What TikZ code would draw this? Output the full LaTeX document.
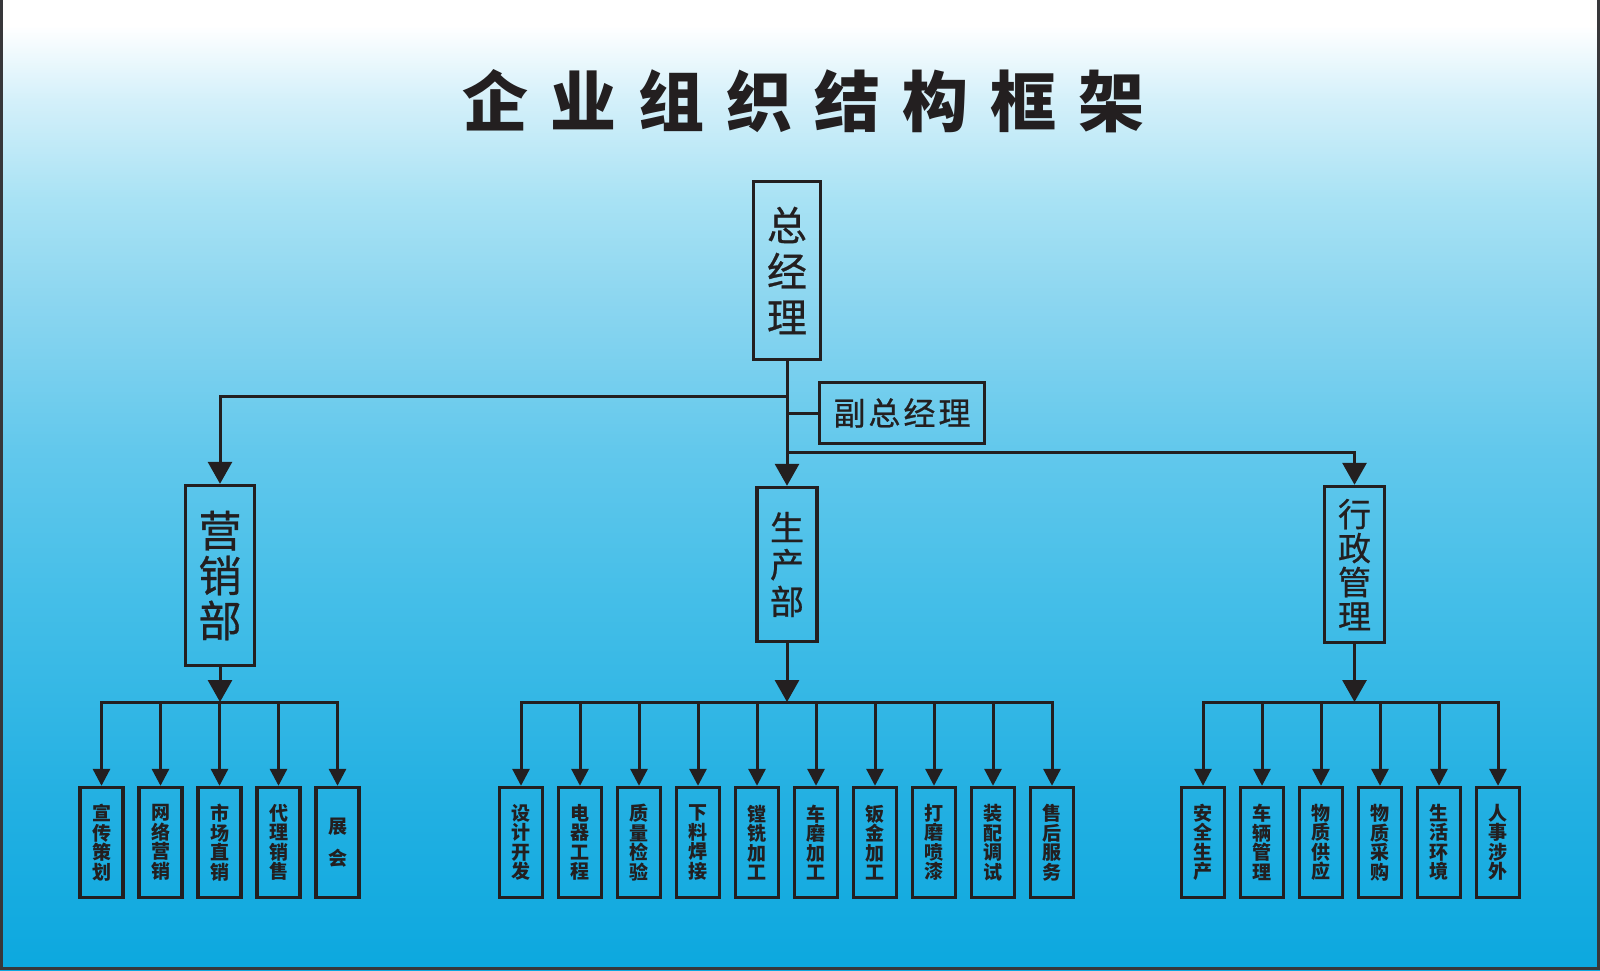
\documentclass[tikz,border=0pt]{standalone}
\usepackage{fontspec}
\setmainfont{Noto Sans CJK SC}
\newfontfamily\medfont{Noto Sans CJK SC}[FakeBold=0.7]
\usetikzlibrary{arrows.meta, positioning}

\definecolor{ink}{RGB}{35,31,32}
\definecolor{edge}{RGB}{55,55,58}
\definecolor{skyA}{RGB}{212,240,250}
\definecolor{skyB}{RGB}{168,226,244}
\definecolor{skyC}{RGB}{140,214,240}
\definecolor{skyD}{RGB}{98,200,236}
\definecolor{skyE}{RGB}{68,190,232}
\definecolor{skyF}{RGB}{35,176,226}
\definecolor{skyG}{RGB}{12,168,223}
\pgfdeclareverticalshading{sky}{100bp}{color(0bp)=(skyG); color(25bp)=(skyG);
  color(33.76bp)=(skyF); color(44.07bp)=(skyE); color(51.8bp)=(skyD);
  color(59.54bp)=(skyC); color(64.69bp)=(skyB); color(69.85bp)=(skyA);
  color(73.7bp)=(white); color(100bp)=(white)}

\begin{document}
\begin{tikzpicture}[x=0.5pt, y=-0.5pt, node distance=6.3pt,
    box/.style = {draw=ink, line width=1.7pt, text=ink, inner sep=0pt,
                  align=center},
    leaf/.style = {box, minimum width=21.5pt, minimum height=55pt,
                   font=\bfseries\fontsize{9.5}{9.75}\selectfont},
    link/.style = {draw=ink, line width=1.5pt, line cap=rect},
    arr/.style = {link, -{Triangle[width=12pt, length=11pt]}},
    arrs/.style = {link, -{Triangle[width=8.5pt, length=8.5pt]}}]

    % background
    \useasboundingbox (0,0) rectangle (1600,970);
    \shade[shading=sky] (0,0) rectangle (1600,970);
    \draw[edge, line width=1.5pt] (1,0) -- (1,968) -- (1598,968) -- (1598,0);

    \node[text=ink, font=\bfseries\fontsize{33}{33}\selectfont] (ttl) at (803.5,101)
        {企\hspace{11pt}业\hspace{11pt}组\hspace{11pt}织\hspace{11pt}结\hspace{11pt}构\hspace{11pt}框\hspace{11pt}架};

    \node[box, minimum width=33.5pt, minimum height=89pt,
          font=\medfont\fontsize{20}{23}\selectfont] (gm) at (787,270.5) {总\\经\\理};
    \node[box, minimum width=82.5pt, minimum height=30.5pt,
          font=\medfont\fontsize{16}{16}\selectfont] (vp) at (902,413)
        {副\hspace{1.5pt}总\hspace{1.5pt}经\hspace{1.5pt}理};

    \node[box, minimum width=34.5pt, minimum height=90pt,
          font=\medfont\fontsize{21.5}{22.5}\selectfont] (mkt) at (220,575.5) {营\\销\\部};
    \node[box, minimum width=30pt, minimum height=77pt,
          font=\medfont\fontsize{17}{18.5}\selectfont] (prod) at (787,564.5) {生\\产\\部};
    \node[box, minimum width=30pt, minimum height=78pt,
          font=\medfont\fontsize{16.5}{17}\selectfont] (adm) at (1354.5,564.5) {行\\政\\管\\理};

    % marketing
    \node[leaf] (m1) at (101.5,842.5) {宣\\传\\策\\划};
    \node[leaf] (m2) [right=of m1] {网\\络\\营\\销};
    \node[leaf] (m3) [right=of m2] {市\\场\\直\\销};
    \node[leaf] (m4) [right=of m3] {代\\理\\销\\售};
    \node[leaf] (m5) [right=of m4] {展\\[6pt]会};

    % production
    \node[leaf] (p1) at (521,842.5) {设\\计\\开\\发};
    \node[leaf] (p2) [right=of p1] {电\\器\\工\\程};
    \node[leaf] (p3) [right=of p2] {质\\量\\检\\验};
    \node[leaf] (p4) [right=of p3] {下\\料\\焊\\接};
    \node[leaf] (p5) [right=of p4] {镗\\铣\\加\\工};
    \node[leaf] (p6) [right=of p5] {车\\磨\\加\\工};
    \node[leaf] (p7) [right=of p6] {钣\\金\\加\\工};
    \node[leaf] (p8) [right=of p7] {打\\磨\\喷\\漆};
    \node[leaf] (p9) [right=of p8] {装\\配\\调\\试};
    \node[leaf] (p10) [right=of p9] {售\\后\\服\\务};

    % administration
    \node[leaf] (a1) at (1203,842.5) {安\\全\\生\\产};
    \node[leaf] (a2) [right=of a1] {车\\辆\\管\\理};
    \node[leaf] (a3) [right=of a2] {物\\质\\供\\应};
    \node[leaf] (a4) [right=of a3] {物\\质\\采\\购};
    \node[leaf] (a5) [right=of a4] {生\\活\\环\\境};
    \node[leaf] (a6) [right=of a5] {人\\事\\涉\\外};

    \coordinate (lft) at (787,396);
    \coordinate (rgt) at (787,452);
    \coordinate (bus) at (0,702);

    \draw[arr] (gm) -- (prod);
    \draw[arr] (lft) -| (mkt.north);
    \draw[link] (gm.south |- vp.west) -- (vp.west);
    \draw[arr] (rgt) -| (adm.north);

    \draw[arr] (mkt.south) -- (mkt.south |- bus);
    \draw[arr] (prod.south) -- (prod.south |- bus);
    \draw[arr] (adm.south) -- (adm.south |- bus);

    \draw[link] (m1.north |- bus) -- (m5.north |- bus);
    \draw[link] (p1.north |- bus) -- (p10.north |- bus);
    \draw[link] (a1.north |- bus) -- (a6.north |- bus);

    \draw[arrs] (m1.north |- bus) -- (m1.north);
    \draw[arrs] (m2.north |- bus) -- (m2.north);
    \draw[arrs] (m3.north |- bus) -- (m3.north);
    \draw[arrs] (m4.north |- bus) -- (m4.north);
    \draw[arrs] (m5.north |- bus) -- (m5.north);

    \draw[arrs] (p1.north |- bus) -- (p1.north);
    \draw[arrs] (p2.north |- bus) -- (p2.north);
    \draw[arrs] (p3.north |- bus) -- (p3.north);
    \draw[arrs] (p4.north |- bus) -- (p4.north);
    \draw[arrs] (p5.north |- bus) -- (p5.north);
    \draw[arrs] (p6.north |- bus) -- (p6.north);
    \draw[arrs] (p7.north |- bus) -- (p7.north);
    \draw[arrs] (p8.north |- bus) -- (p8.north);
    \draw[arrs] (p9.north |- bus) -- (p9.north);
    \draw[arrs] (p10.north |- bus) -- (p10.north);

    \draw[arrs] (a1.north |- bus) -- (a1.north);
    \draw[arrs] (a2.north |- bus) -- (a2.north);
    \draw[arrs] (a3.north |- bus) -- (a3.north);
    \draw[arrs] (a4.north |- bus) -- (a4.north);
    \draw[arrs] (a5.north |- bus) -- (a5.north);
    \draw[arrs] (a6.north |- bus) -- (a6.north);
\end{tikzpicture}
\end{document}
